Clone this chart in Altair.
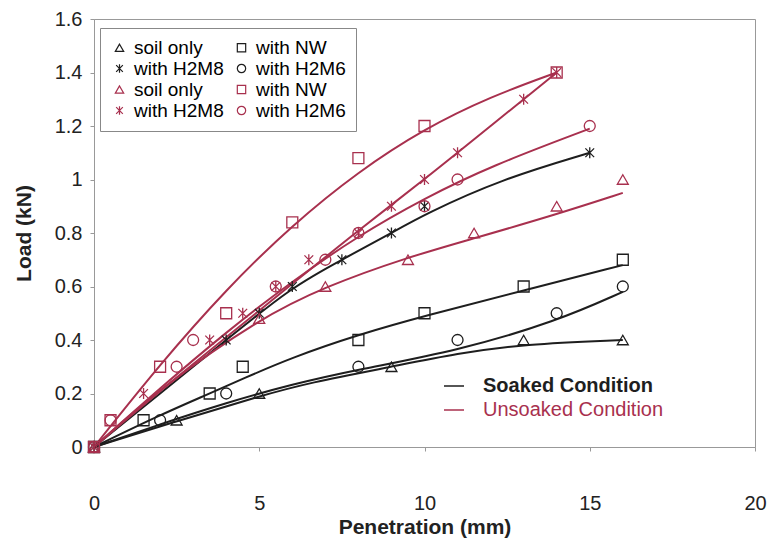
import altair as alt
import pandas as pd

RED = "#a8304e"
DARK = "#1e1e1e"
FONT = "Liberation Sans"

# ---- legend keys (condition|label); listed column-major so the 2-column legend reads row by row
series_keys = ["S|soil only", "S|with H2M8", "U|soil only", "U|with H2M8",
               "S|with NW", "S|with H2M6", "U|with NW", "U|with H2M6"]
ASTER = "M0,-1L0,1M-0.8,-0.8L0.8,0.8M-0.8,0.8L0.8,-0.8"
series_colors = [DARK, DARK, RED, RED, DARK, DARK, RED, RED]
series_shapes = ["triangle-up", ASTER, "triangle-up", ASTER, "square", "circle", "square", "circle"]
condition_names = ["Soaked Condition", "Unsoaked Condition"]

# ---- measured points (Penetration mm, Load kN)
s_soil_x = [0, 2.5, 5, 9, 13, 16]
s_soil_y = [0, 0.1, 0.2, 0.3, 0.4, 0.4]
s_nw_x = [0, 1.5, 3.5, 4.5, 8, 10, 13, 16]
s_nw_y = [0, 0.1, 0.2, 0.3, 0.4, 0.5, 0.6, 0.7]
s_h2m8_x = [0, 4, 5, 6, 7.5, 9, 10, 15]
s_h2m8_y = [0, 0.4, 0.5, 0.6, 0.7, 0.8, 0.9, 1.1]
s_h2m6_x = [0, 2, 4, 8, 11, 14, 16]
s_h2m6_y = [0, 0.1, 0.2, 0.3, 0.4, 0.5, 0.6]
u_soil_x = [0, 5, 7, 9.5, 11.5, 14, 16]
u_soil_y = [0, 0.48, 0.6, 0.7, 0.8, 0.9, 1.0]
u_nw_x = [0, 0.5, 2, 4, 6, 8, 10, 14]
u_nw_y = [0, 0.1, 0.3, 0.5, 0.84, 1.08, 1.2, 1.4]
u_h2m8_x = [0, 1.5, 3.5, 4.5, 5.5, 6.5, 8, 9, 10, 11, 13, 14]
u_h2m8_y = [0, 0.2, 0.4, 0.5, 0.6, 0.7, 0.8, 0.9, 1.0, 1.1, 1.3, 1.4]
u_h2m6_x = [0, 0.5, 2.5, 3, 5.5, 7, 8, 10, 11, 15]
u_h2m6_y = [0, 0.1, 0.3, 0.4, 0.6, 0.7, 0.8, 0.9, 1.0, 1.2]

# ---- trend curves
ls_soil_x = [0, 2.6, 5, 6.5, 9, 11, 13, 16]
ls_soil_y = [0, 0.1, 0.19, 0.24, 0.3, 0.35, 0.385, 0.4]
ls_nw_x = [0, 2, 3.5, 4.5, 6, 8, 10, 13, 16]
ls_nw_y = [0, 0.12, 0.2, 0.255, 0.335, 0.42, 0.49, 0.585, 0.68]
ls_h2m8_x = [0, 2, 4, 6, 7.5, 9, 10, 12.3, 15]
ls_h2m8_y = [0, 0.2, 0.4, 0.6, 0.7, 0.8, 0.87, 1.0, 1.1]
ls_h2m6_x = [0, 2, 4, 6, 8, 11, 14, 16]
ls_h2m6_y = [0, 0.085, 0.165, 0.235, 0.29, 0.36, 0.47, 0.58]
lu_soil_x = [0, 2, 5, 7, 9.5, 11.5, 14, 16]
lu_soil_y = [0, 0.22, 0.48, 0.6, 0.71, 0.78, 0.87, 0.95]
lu_nw_x = [0, 2, 4, 6, 8, 10, 12, 14]
lu_nw_y = [0, 0.31, 0.59, 0.83, 1.03, 1.19, 1.31, 1.40]
lu_h2m8_x = [0, 2, 4, 6, 8, 10, 12, 14]
lu_h2m8_y = [0, 0.21, 0.41, 0.61, 0.81, 1.0, 1.2, 1.4]
lu_h2m6_x = [0, 2, 4, 6, 8, 10, 12, 15]
lu_h2m6_y = [0, 0.22, 0.43, 0.62, 0.79, 0.93, 1.05, 1.19]

x_ticks = [0, 5, 10, 15, 20]
y_ticks = [0, 0.2, 0.4, 0.6, 0.8, 1.0, 1.2, 1.4, 1.6]

markers = {
    "S|soil only": (s_soil_x, s_soil_y), "S|with NW": (s_nw_x, s_nw_y),
    "S|with H2M8": (s_h2m8_x, s_h2m8_y), "S|with H2M6": (s_h2m6_x, s_h2m6_y),
    "U|soil only": (u_soil_x, u_soil_y), "U|with NW": (u_nw_x, u_nw_y),
    "U|with H2M8": (u_h2m8_x, u_h2m8_y), "U|with H2M6": (u_h2m6_x, u_h2m6_y),
}
curves = {
    "S|soil only": (ls_soil_x, ls_soil_y), "S|with NW": (ls_nw_x, ls_nw_y),
    "S|with H2M8": (ls_h2m8_x, ls_h2m8_y), "S|with H2M6": (ls_h2m6_x, ls_h2m6_y),
    "U|soil only": (lu_soil_x, lu_soil_y), "U|with NW": (lu_nw_x, lu_nw_y),
    "U|with H2M8": (lu_h2m8_x, lu_h2m8_y), "U|with H2M6": (lu_h2m6_x, lu_h2m6_y),
}

pts_rows, line_rows = [], []
for key, (xs, ys) in markers.items():
    for a, b in zip(xs, ys):
        pts_rows.append({"x": a, "y": b, "key": key})
for key, (xs, ys) in curves.items():
    cond = condition_names[0] if key.startswith("S") else condition_names[1]
    for j, (a, b) in enumerate(zip(xs, ys)):
        line_rows.append({"x": a, "y": b, "key": key, "cond": cond, "order": j})
pts = pd.DataFrame(pts_rows)
lines = pd.DataFrame(line_rows)

xscale = alt.Scale(domain=[0, 20], nice=False)
yscale = alt.Scale(domain=[0, 1.6], nice=False)
xaxis = alt.Axis(values=x_ticks, title="Penetration (mm)", grid=False, labelPadding=42,
                 titlePadding=3, tickSize=4, labelFlush=False)
yaxis = alt.Axis(values=y_ticks, title="Load (kN)", grid=False, format=".1~f",
                 labelPadding=8, titlePadding=20, tickSize=4, labelFlush=False)

line_layer = alt.Chart(lines).mark_line(strokeWidth=2, interpolate="basis").encode(
    x=alt.X("x:Q", scale=xscale, axis=xaxis),
    y=alt.Y("y:Q", scale=yscale, axis=yaxis),
    detail="key:N",
    order="order:Q",
    stroke=alt.Stroke("cond:N",
                      scale=alt.Scale(domain=condition_names, range=[DARK, RED]),
                      legend=alt.Legend(title=None, orient="none", legendX=349, legendY=356,
                                        symbolType="stroke", symbolSize=400, symbolStrokeWidth=1.5,
                                        labelFontSize=20, labelOffset=18, rowPadding=3, padding=0,
                                        labelLimit=400,
                                        labelColor={"expr": "datum.value == 'Soaked Condition' ? '#1e1e1e' : '#a8304e'"},
                                        labelFontWeight={"expr": "datum.value == 'Soaked Condition' ? 'bold' : 'normal'"})),
)

point_layer = alt.Chart(pts).mark_point(filled=False, size=120, strokeWidth=1.3, opacity=1).encode(
    x=alt.X("x:Q", scale=xscale),
    y=alt.Y("y:Q", scale=yscale),
    color=alt.Color("key:N", scale=alt.Scale(domain=series_keys, range=series_colors),
                    legend=alt.Legend(title=None, orient="none", legendX=6, legendY=9, columns=2,
                                      columnPadding=8, rowPadding=1, symbolSize=70,
                                      symbolStrokeWidth=1.2, labelFontSize=19, labelOffset=5,
                                      labelExpr="slice(datum.label, 2)", strokeColor="#888",
                                      fillColor="white", padding=10)),
    shape=alt.Shape("key:N", scale=alt.Scale(domain=series_keys, range=series_shapes)),
)

chart = alt.layer(line_layer, point_layer).properties(
    width=661, height=428,
    autosize=alt.AutoSizeParams(type="none"),
    padding={"left": 94, "top": 19, "right": 13, "bottom": 96},
    background="white",
).configure_view(stroke="#999", strokeWidth=1).configure_axis(
    labelFont=FONT, titleFont=FONT, labelFontSize=20, titleFontSize=21,
    labelColor="#222", titleColor="#222", titleFontWeight="bold",
    domainColor="#999", tickColor="#999",
).configure_legend(labelFont=FONT)

chart.save("out.html", embed_options={"renderer": "svg", "actions": False})
